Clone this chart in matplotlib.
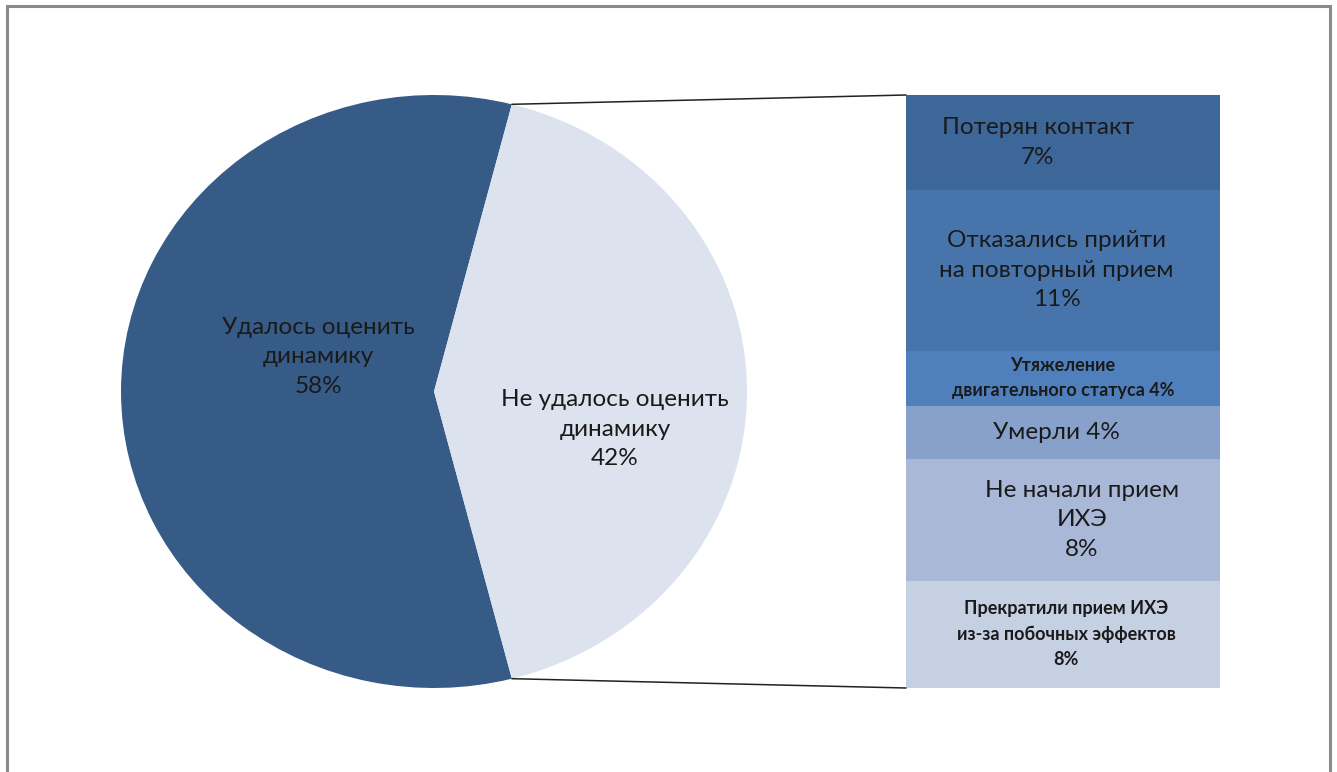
import matplotlib.pyplot as plt
from matplotlib.patches import Rectangle, ConnectionPatch
import numpy as np

plt.rcParams['font.family'] = ['Lato', 'DejaVu Sans']

# main pie
pie_labels = ['Удалось оценить\nдинамику\n58%', 'Не удалось оценить\nдинамику\n42%']
pie_values = [58, 42]
pie_colors = ['#365B87', '#DCE2EE']

# breakdown of the 42% slice, bottom to top
bar_labels = ['Прекратили прием ИХЭ\nиз-за побочных эффектов\n8%',
              'Не начали прием\nИХЭ\n8%',
              'Умерли 4%',
              'Утяжеление\nдвигательного статуса 4%',
              'Отказались прийти\nна повторный прием\n11%',
              'Потерян контакт\n7%']
bar_values = [7.6, 8.6, 3.8, 3.9, 11.4, 6.7]
bar_colors = ['#C5D0E3', '#A9B8D7', '#87A1CA', '#4F80BC', '#4874AC', '#3E6799']

W, H = 1337, 772
fig = plt.figure(figsize=(W / 100, H / 100), dpi=100)

# outer frame
fig.patches.append(Rectangle((7 / W, -0.05), 1323 / W, (H - 6) / H + 0.05,
                             transform=fig.transFigure, fill=False,
                             edgecolor='#8A8A8A', linewidth=2.2))

ax = fig.add_axes([121 / W, 84 / H, 626 / W, 593 / H])
half = pie_values[1] / 100 * 180
ax.pie(pie_values, colors=pie_colors, startangle=half, counterclock=True,
       radius=1.0, wedgeprops=dict(linewidth=0))
ax.set_aspect('auto')
ax.set_xlim(-1, 1)
ax.set_ylim(-1, 1)
ax.text(-0.37, 0.118, pie_labels[0], ha='center', va='center', fontsize=17.5,
        color='#1a1a1a', linespacing=1.5)
ax.text(0.578, -0.128, pie_labels[1], ha='center', va='center', fontsize=17.5,
        color='#1a1a1a', linespacing=1.5)

bx = fig.add_axes([906 / W, 84 / H, 314 / W, 593 / H])
bottom = 0
x_off = [0.01, 0.06, -0.02, 0.0, -0.02, -0.08]
bold = [True, False, False, True, False, False]
for v, c, lab, dx, b in zip(bar_values, bar_colors, bar_labels, x_off, bold):
    bx.bar(0, v, bottom=bottom, width=1, color=c, linewidth=0)
    bx.text(dx, bottom + v / 2, lab, ha='center', va='center',
            fontsize=13 if b else 17.5, fontweight='bold' if b else 'normal',
            color='#1a1a1a', linespacing=1.6 if b else 1.5)
    bottom += v
bx.set_xlim(-0.5, 0.5)
bx.set_ylim(0, bottom)
bx.axis('off')

ang = np.deg2rad(half)
for sgn, yb in [(1, bottom), (-1, 0)]:
    con = ConnectionPatch(xyA=(np.cos(ang), sgn * np.sin(ang)), coordsA=ax.transData,
                          xyB=(-0.5, yb), coordsB=bx.transData,
                          color='#222222', linewidth=1.1)
    fig.add_artist(con)

fig.savefig('out.png', dpi=100, facecolor='white')
